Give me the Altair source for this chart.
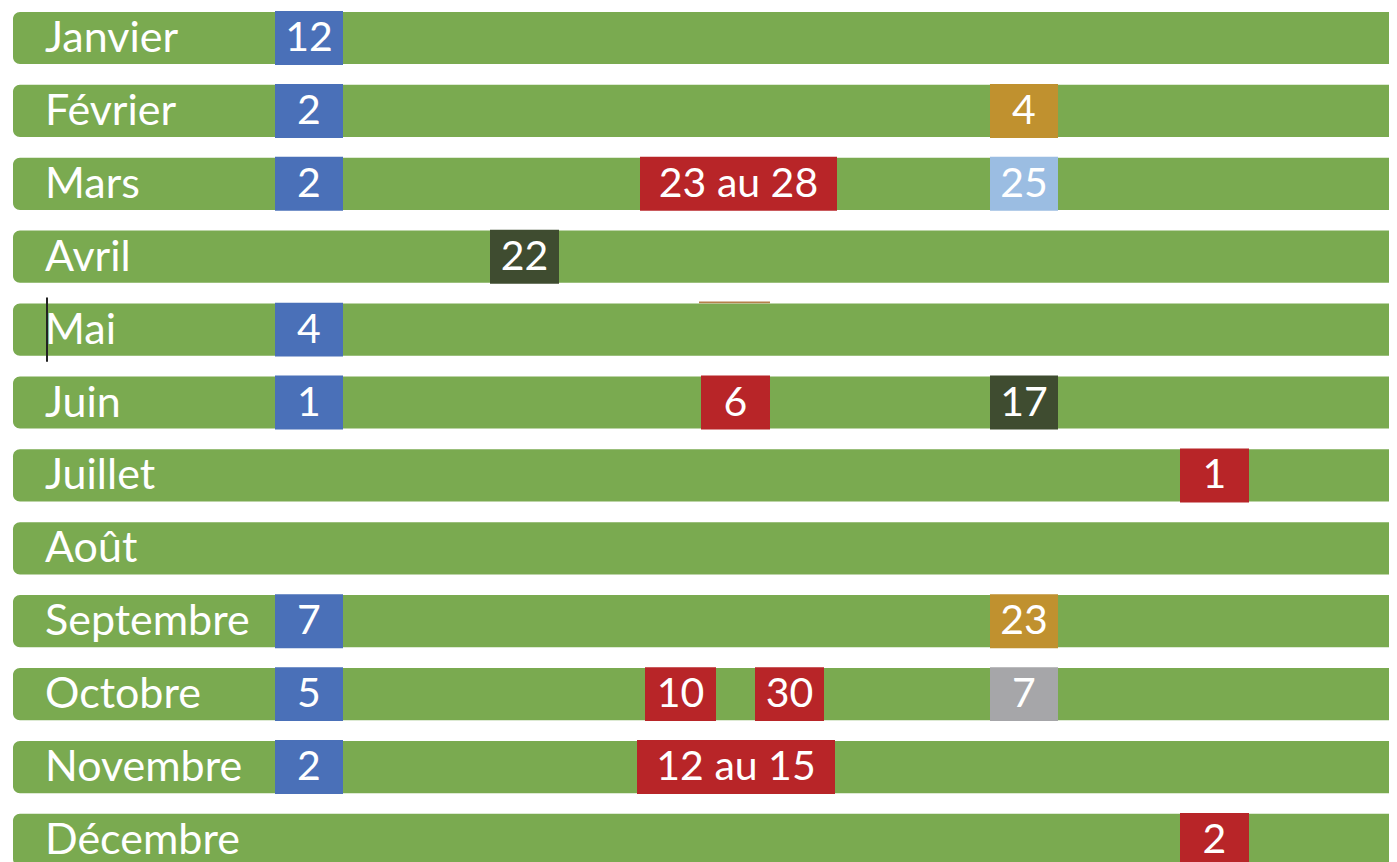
import altair as alt
import pandas as pd

# ---- data ----
months = ["Janvier", "Février", "Mars", "Avril", "Mai", "Juin", "Juillet",
          "Août", "Septembre", "Octobre", "Novembre", "Décembre"]

# events: month row, start / end position on the horizontal scale, label, kind
ev_row   = [0, 1, 1, 2, 2, 2, 3, 4, 5, 5, 5, 6, 8, 8, 9, 9, 9, 9, 10, 10, 11]
ev_start = [267, 267, 982, 267, 632, 982, 482, 267, 267, 693, 982, 1172, 267, 982,
            267, 637, 747, 982, 267, 629, 1172]
ev_end   = [335, 335, 1050, 335, 829, 1050, 551, 335, 335, 762, 1050, 1241, 335, 1050,
            335, 708, 816, 1050, 335, 827, 1241]
ev_label = ["12", "2", "4", "2", "23 au 28", "25", "22", "4", "1", "6", "17", "1", "7", "23",
            "5", "10", "30", "7", "2", "12 au 15", "2"]
ev_kind  = ["bleu", "bleu", "or", "bleu", "rouge", "bleu clair", "vert foncé", "bleu", "bleu",
            "rouge", "vert foncé", "rouge", "bleu", "or", "bleu", "rouge", "rouge", "gris",
            "bleu", "rouge", "rouge"]

kinds  = ["bleu", "rouge", "or", "bleu clair", "vert foncé", "gris"]
colors = ["#4A70B8", "#B82528", "#C0912F", "#9BBDE2", "#3F4C30", "#A6A6A9"]

# small artefacts visible in the screenshot (edge of a hidden box, text cursor)
art_row   = [4]
art_start = [691]
art_end   = [762]

W, H = 1381, 846
XMAX = 1381
BAR_START = 5
LABEL_X = 37
FONT = "Lato"

months_df = pd.DataFrame({"month": months, "row": list(range(len(months)))})
ev_df = pd.DataFrame({"row": ev_row, "start": ev_start, "end": ev_end,
                      "label": ev_label, "kind": ev_kind})
art_df = pd.DataFrame({"row": art_row, "start": art_start, "end": art_end})

xs = alt.Scale(domain=[0, XMAX], nice=False, zero=False)
ys = alt.Scale(domain=[-0.4115, 11.193], nice=False, zero=False, reverse=True)

base_m = alt.Chart(months_df).transform_calculate(
    top="datum.row - 0.358", bot="datum.row + 0.358",
    x0=str(BAR_START), x1=str(XMAX), lx=str(LABEL_X)
)

bars = base_m.mark_rect(
    color="#7AAA50", cornerRadiusTopLeft=7, cornerRadiusBottomLeft=7
).encode(
    x=alt.X("x0:Q", scale=xs, axis=None),
    x2="x1:Q",
    y=alt.Y("top:Q", scale=ys, axis=None),
    y2="bot:Q",
)

month_text = base_m.mark_text(
    align="left", baseline="middle", font=FONT, fontSize=43, color="white", dy=1
).encode(
    x=alt.X("lx:Q", scale=xs, axis=None),
    y=alt.Y("row:Q", scale=ys, axis=None),
    text="month:N",
)

base_e = alt.Chart(ev_df).transform_calculate(
    top="datum.row - 0.37", bot="datum.row + 0.37",
    mid="(datum.start + datum.end) / 2"
)

boxes = base_e.mark_rect().encode(
    x=alt.X("start:Q", scale=xs, axis=None),
    x2="end:Q",
    y=alt.Y("top:Q", scale=ys, axis=None),
    y2="bot:Q",
    color=alt.Color("kind:N", scale=alt.Scale(domain=kinds, range=colors), legend=None),
)

box_text = base_e.mark_text(
    align="center", baseline="middle", font=FONT, fontSize=41, color="white", dy=1
).encode(
    x=alt.X("mid:Q", scale=xs, axis=None),
    y=alt.Y("row:Q", scale=ys, axis=None),
    text="label:N",
)

art = alt.Chart(art_df).transform_calculate(
    top="datum.row - 0.385", bot="datum.row - 0.36"
).mark_rect(color="#B5804A").encode(
    x=alt.X("start:Q", scale=xs, axis=None),
    x2="end:Q",
    y=alt.Y("top:Q", scale=ys, axis=None),
    y2="bot:Q",
)

cursor = alt.Chart(pd.DataFrame({"row": [4]})).transform_calculate(
    top="datum.row - 0.44", bot="datum.row + 0.44", cx="38", cx2="40"
).mark_rect(color="#222222").encode(
    x=alt.X("cx:Q", scale=xs, axis=None),
    x2="cx2:Q",
    y=alt.Y("top:Q", scale=ys, axis=None),
    y2="bot:Q",
)

chart = alt.layer(bars, month_text, art, boxes, box_text, cursor).properties(
    width=W, height=H, padding=0
).configure_view(stroke=None)

chart.save("out.html", embed_options={"renderer": "svg", "actions": False})
